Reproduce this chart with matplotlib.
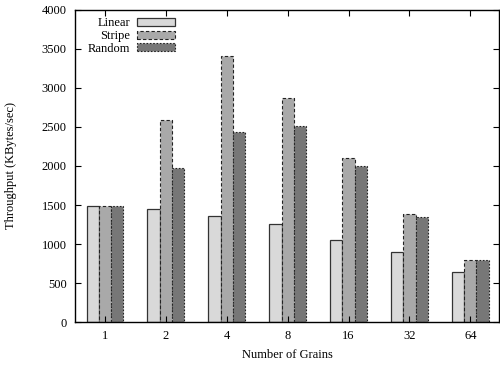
import numpy as np
import matplotlib.pyplot as plt

plt.rcParams['font.family'] = ['Liberation Serif', 'DejaVu Serif']

grains = ['1', '2', '4', '8', '16', '32', '64']
linear = [1490, 1450, 1360, 1255, 1045, 893, 635]
stripe = [1490, 2590, 3410, 2870, 2105, 1385, 790]
random_ = [1490, 1980, 2435, 2510, 1995, 1350, 790]

fig = plt.figure(figsize=(5, 3.66), dpi=100)
ax = fig.add_axes([0.15, 0.1202, 0.848, 0.8525])

x = np.arange(len(grains))
w = 0.2
ax.bar(x - w, linear, w, color='#d9d9d9', edgecolor='#333333', linewidth=0.9,
       linestyle='-', label='Linear')
ax.bar(x, stripe, w, color='#a9a9a9', edgecolor='#222222', linewidth=0.8,
       linestyle=(0, (3, 2)), label='Stripe')
ax.bar(x + w, random_, w, color='#777777', edgecolor='#222222', linewidth=0.8,
       linestyle=(0, (1.5, 1.5)), label='Random')

ax.set_xlim(-0.49, 6.47)
ax.set_ylim(0, 4000)
ax.set_xticks(x)
ax.set_xticklabels(grains)
ax.set_yticks(range(0, 4001, 500))
ax.tick_params(direction='in', top=True, right=True, labelsize=9, length=4,
               width=0.8, pad=6)
for s in ax.spines.values():
    s.set_linewidth(1.0)

ax.set_xlabel('Number of Grains', fontsize=9, labelpad=5)
ax.set_ylabel('Throughput (KBytes/sec)', fontsize=9, labelpad=18)

leg = ax.legend(loc='upper left', bbox_to_anchor=(0.012, 1.0), frameon=False,
                markerfirst=False, fontsize=9, handlelength=3.0, handleheight=0.6,
                labelspacing=0.05, handletextpad=0.6, borderaxespad=0.2)
for t in leg.get_texts():
    t.set_ha('right')
leg._legend_box.align = 'right'

fig.savefig('out.png', dpi=100)
